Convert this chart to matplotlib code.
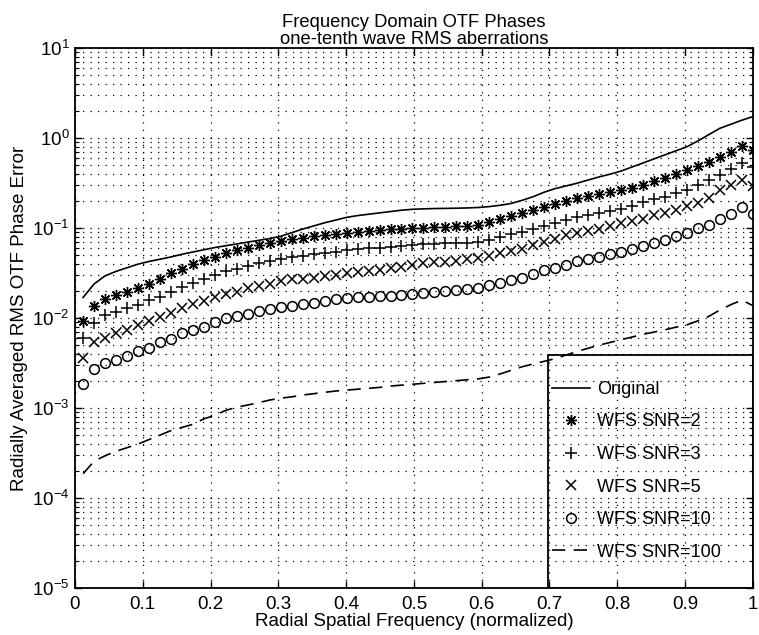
import numpy as np
import matplotlib
matplotlib.use('Agg')
import matplotlib.pyplot as plt
from matplotlib.patches import Rectangle
from matplotlib.ticker import LogLocator, NullFormatter

plt.rcParams['font.family'] = ['Liberation Sans', 'DejaVu Sans']
plt.rcParams['mathtext.default'] = 'regular'

# radial frequency samples (normalized)
freq = np.linspace(0.012, 1.0, 62)

# log10 of the radially averaged RMS OTF phase error
log_original = [-1.77, -1.62, -1.53, -1.48, -1.44, -1.40, -1.37, -1.345, -1.32, -1.29,
                -1.265, -1.24, -1.215, -1.195, -1.175, -1.155, -1.135, -1.115, -1.09, -1.05,
                -1.01, -0.975, -0.94, -0.91, -0.88, -0.86, -0.845, -0.83, -0.815, -0.80,
                -0.79, -0.785, -0.782, -0.78, -0.778, -0.775, -0.77, -0.76, -0.745, -0.725,
                -0.69, -0.65, -0.60, -0.56, -0.53, -0.50, -0.465, -0.43, -0.40, -0.365,
                -0.32, -0.275, -0.23, -0.185, -0.14, -0.095, -0.03, 0.04, 0.11, 0.155,
                0.20, 0.24]
log_snr2 = [-2.03, -1.86, -1.79, -1.745, -1.71, -1.67, -1.615, -1.56, -1.50, -1.45,
            -1.40, -1.355, -1.32, -1.28, -1.245, -1.215, -1.19, -1.165, -1.14, -1.12,
            -1.105, -1.09, -1.075, -1.06, -1.05, -1.04, -1.03, -1.02, -1.01, -1.005,
            -1.0, -0.995, -0.99, -0.985, -0.98, -0.975, -0.96, -0.935, -0.90, -0.87,
            -0.835, -0.80, -0.765, -0.73, -0.70, -0.67, -0.645, -0.62, -0.60, -0.58,
            -0.55, -0.515, -0.48, -0.44, -0.40, -0.355, -0.305, -0.26, -0.205, -0.15,
            -0.09, -0.13]
log_snr3 = [-2.22, -2.05, -1.97, -1.93, -1.89, -1.85, -1.80, -1.76, -1.71, -1.65,
            -1.61, -1.56, -1.52, -1.48, -1.45, -1.42, -1.39, -1.365, -1.345, -1.325,
            -1.305, -1.29, -1.275, -1.26, -1.245, -1.235, -1.225, -1.215, -1.205, -1.197,
            -1.19, -1.18, -1.175, -1.17, -1.165, -1.16, -1.15, -1.13, -1.10, -1.07,
            -1.04, -1.01, -0.98, -0.945, -0.91, -0.875, -0.85, -0.83, -0.81, -0.79,
            -0.75, -0.71, -0.68, -0.65, -0.61, -0.575, -0.52, -0.47, -0.41, -0.34,
            -0.27, -0.32]
log_snr5 = [-2.44, -2.26, -2.22, -2.17, -2.13, -2.08, -2.03, -1.99, -1.94, -1.89,
            -1.84, -1.81, -1.77, -1.73, -1.71, -1.67, -1.64, -1.615, -1.59, -1.57,
            -1.56, -1.55, -1.535, -1.52, -1.50, -1.49, -1.475, -1.46, -1.445, -1.43,
            -1.41, -1.39, -1.38, -1.374, -1.363, -1.348, -1.337, -1.311, -1.281, -1.252,
            -1.226, -1.189, -1.152, -1.115, -1.078, -1.052, -1.03, -1.004, -0.978, -0.948,
            -0.919, -0.893, -0.856, -0.826, -0.793, -0.756, -0.719, -0.66, -0.58, -0.52,
            -0.47, -0.53]
log_snr10 = [-2.73, -2.57, -2.50, -2.46, -2.42, -2.37, -2.33, -2.27, -2.23, -2.17,
             -2.13, -2.10, -2.04, -2.00, -1.98, -1.95, -1.92, -1.90, -1.88, -1.86,
             -1.84, -1.83, -1.81, -1.79, -1.78, -1.77, -1.765, -1.755, -1.75, -1.74,
             -1.73, -1.72, -1.71, -1.70, -1.69, -1.68, -1.66, -1.63, -1.61, -1.58,
             -1.55, -1.51, -1.47, -1.44, -1.41, -1.37, -1.34, -1.32, -1.29, -1.26,
             -1.23, -1.20, -1.16, -1.13, -1.09, -1.05, -1.00, -0.96, -0.90, -0.84,
             -0.76, -0.84]
log_snr100 = [-3.73, -3.59, -3.53, -3.48, -3.44, -3.40, -3.35, -3.30, -3.25, -3.215,
              -3.18, -3.12, -3.08, -3.025, -2.99, -2.965, -2.94, -2.91, -2.89, -2.875,
              -2.855, -2.84, -2.825, -2.81, -2.80, -2.79, -2.78, -2.77, -2.755, -2.745,
              -2.735, -2.725, -2.715, -2.705, -2.695, -2.685, -2.675, -2.655, -2.62, -2.58,
              -2.54, -2.51, -2.48, -2.45, -2.41, -2.37, -2.335, -2.30, -2.27, -2.24,
              -2.21, -2.18, -2.155, -2.13, -2.10, -2.075, -2.03, -1.98, -1.91, -1.85,
              -1.80, -1.86]

x_ticks = [0, 0.1, 0.2, 0.3, 0.4, 0.5, 0.6, 0.7, 0.8, 0.9, 1]
x_ticklabels = ['0', '0.1', '0.2', '0.3', '0.4', '0.5', '0.6', '0.7', '0.8', '0.9', '1']
y_ticks = [1e-5, 1e-4, 1e-3, 1e-2, 1e-1, 1e0, 1e1]

fig = plt.figure(figsize=(7.59, 6.35), dpi=100)
ax = fig.add_axes([0.0988, 0.074, 0.893, 0.85])

ax.plot(freq, 10 ** np.array(log_original), 'k-', lw=1.2, label='Original')
ax.plot(freq, 10 ** np.array(log_snr2), ls='none', marker=(8, 2, 0), ms=8, mew=1.0,
        color='k', label='WFS SNR=2')
ax.plot(freq, 10 ** np.array(log_snr3), ls='none', marker='+', ms=8, mew=1.1,
        color='k', label='WFS SNR=3')
ax.plot(freq, 10 ** np.array(log_snr5), ls='none', marker='x', ms=6.5, mew=1.1,
        color='k', label='WFS SNR=5')
ax.plot(freq, 10 ** np.array(log_snr10), ls='none', marker='o', ms=7, mew=1.1,
        mfc='none', color='k', label='WFS SNR=10')
ax.plot(freq, 10 ** np.array(log_snr100), color='k', ls=(0, (8, 5)), lw=1.2,
        label='WFS SNR=100')

ax.set_yscale('log')
ax.set_xlim(0, 1)
ax.set_ylim(1e-5, 1e1)
ax.set_xticks(x_ticks)
ax.set_xticklabels(x_ticklabels)
ax.set_yticks(y_ticks)
ax.yaxis.set_minor_locator(LogLocator(base=10, subs=np.arange(2, 10), numticks=20))
ax.yaxis.set_minor_formatter(NullFormatter())

dots = (0, (1, 5))
ax.grid(True, which='major', axis='both', color='k', ls=dots, lw=0.9)
ax.grid(True, which='minor', axis='y', color='k', ls=dots, lw=0.9)

ax.tick_params(which='both', direction='in', top=True, right=True, labelsize=13.5)
ax.tick_params(which='major', length=5, width=1)
ax.tick_params(which='minor', length=3, width=0.8)
ax.tick_params(axis='x', pad=6)
ax.tick_params(axis='y', pad=4)
for s in ax.spines.values():
    s.set_linewidth(1.3)

ax.set_title('Frequency Domain OTF Phases\none-tenth wave RMS aberrations',
             fontsize=13.2, linespacing=1.05, pad=2)
ax.set_xlabel('Radial Spatial Frequency (normalized)', fontsize=13.5, labelpad=0)
ax.set_ylabel('Radially Averaged RMS OTF Phase Error', fontsize=13.5, labelpad=3)

# legend box drawn separately, so that it reaches the bottom of the axes
ax.add_patch(Rectangle((0.698, 0.0), 0.302, 0.431, transform=ax.transAxes,
                       fill=False, edgecolor='k', lw=1.3, zorder=5))
leg = ax.legend(loc='upper left', bbox_to_anchor=(0.698, 0.391), borderaxespad=0,
                numpoints=1, fontsize=13, frameon=False,
                handlelength=2.1, handletextpad=0.4, labelspacing=0.86,
                borderpad=0.22)

fig.savefig('out.png', dpi=100)
